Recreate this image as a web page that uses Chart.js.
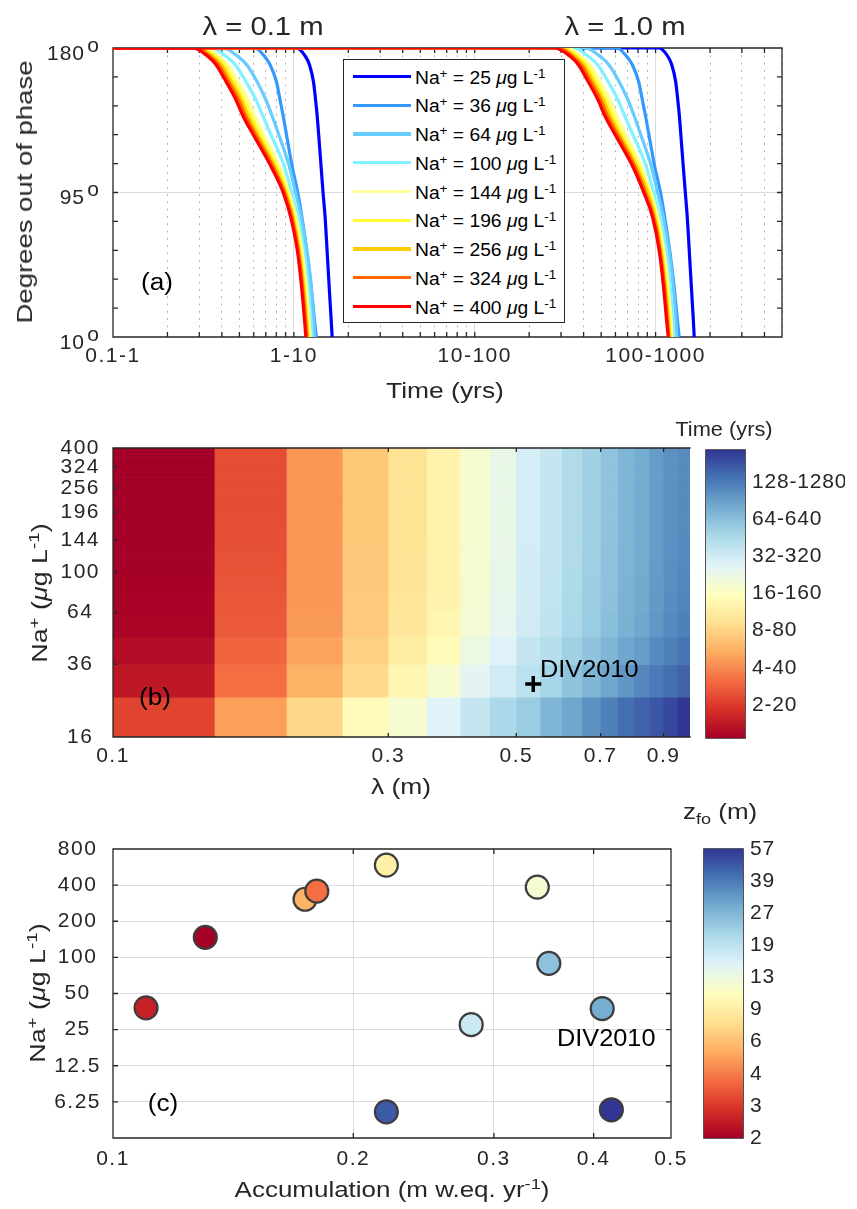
<!DOCTYPE html>
<html lang="en">
<head>
<meta charset="utf-8">
<title>Phase lag, time and z_fo</title>
<script src="https://cdn.jsdelivr.net/npm/chart.js@4.4.1/dist/chart.umd.min.js"></script>
<style>
  html, body { margin: 0; padding: 0; background: #fff; }
  #page { position: relative; width: 857px; height: 1209px; overflow: hidden;
          font-family: 'Liberation Sans', Arial, Helvetica, sans-serif; color: #262626; }
  #page canvas { position: absolute; left: 0; }
  .txt { position: absolute; white-space: nowrap; line-height: 1;
         transform: translate(-50%, -50%) scaleX(var(--sx, 1.18)); }
  .left { transform-origin: left center; transform: translate(0, -50%) scaleX(var(--sx, 1.1)); }
  .rot { transform: translate(-50%, -50%) rotate(-90deg) scaleX(var(--sx, 1.22)); }
  .ttl { font-size: 25px; --sx: 1.17; }
  .lab { font-size: 22px; }
  .pan { font-size: 23px; --sx: 1.14; color: #000; }
  .cbt { font-size: 20px; --sx: 1.09; }
  .sp { font-size: 70%; vertical-align: 0.55em; line-height: 0; }
  .sb { font-size: 70%; vertical-align: -0.35em; line-height: 0; }
  #legendA { position: absolute; left: 343px; top: 59px; width: 222px; height: 264px;
             box-sizing: border-box; border: 1.5px solid #262626; background: #fff; }
  .lg-line { position: absolute; left: 9px; width: 58px; height: 3.2px; }
  .lg-text { position: absolute; left: 71px; font-size: 17.5px; white-space: nowrap; color: #000;
             line-height: 1; transform-origin: left center; transform: translate(0, -50%) scaleX(1.1); }
</style>
</head>
<body>
<div id="page">
  <canvas id="chartA" width="857" height="410" style="top:0px"></canvas>
  <canvas id="chartB" width="857" height="410" style="top:400px"></canvas>
  <canvas id="cbarB" width="857" height="410" style="top:400px"></canvas>
  <canvas id="chartC" width="857" height="399" style="top:810px"></canvas>
  <canvas id="cbarC" width="857" height="399" style="top:810px"></canvas>

  <!-- panel (a) text -->
  <div class="txt ttl" style="left:263px;top:26px">λ = 0.1 m</div>
  <div class="txt ttl" style="left:625px;top:26px">λ = 1.0 m</div>
  <div class="txt lab rot" style="left:25px;top:192px;--sx:1.25">Degrees out of phase</div>
  <div class="txt lab" style="left:445px;top:391px;--sx:1.2">Time (yrs)</div>
  <div class="txt pan" style="left:157px;top:282px">(a)</div>
  <div id="legendA"></div>

  <!-- panel (b) text -->
  <div class="txt lab rot" style="left:40px;top:593px">Na<span class="sp">+</span> (<i>μ</i>g L<span class="sp">-1</span>)</div>
  <div class="txt lab" style="left:401px;top:787px;--sx:1.2">λ (m)</div>
  <div class="txt pan" style="left:155px;top:697px">(b)</div>
  <div class="txt pan left" style="left:540px;top:669px;--sx:1.1">DIV2010</div>
  <div class="txt cbt" style="left:724px;top:429px">Time (yrs)</div>

  <!-- panel (c) text -->
  <div class="txt lab rot" style="left:38px;top:993px">Na<span class="sp">+</span> (<i>μ</i>g L<span class="sp">-1</span>)</div>
  <div class="txt lab" style="left:392px;top:1190px;--sx:1.18">Accumulation (m w.eq. yr<span class="sp">-1</span>)</div>
  <div class="txt pan" style="left:163px;top:1103px">(c)</div>
  <div class="txt pan left" style="left:557px;top:1038px;--sx:1.1">DIV2010</div>
  <div class="txt lab left" style="left:683px;top:812px;--sx:1.18">z<span class="sb">fo</span> (m)</div>
</div>

<script>
// ---------- panel (a): phase lag curves ----------
const DEGREES = [180, 180, 175, 170, 160, 150, 140, 130, 110, 95, 80, 60, 40, 20, 10];
const NA_LEVELS = [25, 36, 64, 100, 144, 196, 256, 324, 400];
const NA_COLORS = ['#0000ff', '#3399ff', '#66ccff', '#80f2ff', '#ffff99', '#ffff33', '#ffcc00', '#ff6600', '#ff0000'];

// time at each DEGREES entry, lambda = 0.1 m
const t01_na25 = [0.1, 1.030, 1.160, 1.221, 1.284, 1.317, 1.346, 1.369, 1.415, 1.450, 1.490, 1.528, 1.567, 1.608, 1.628];
const t01_na36 = [0.1, 0.607, 0.689, 0.740, 0.802, 0.837, 0.873, 0.907, 0.980, 1.050, 1.110, 1.180, 1.245, 1.300, 1.330];
const t01_na64 = [0.1, 0.405, 0.491, 0.550, 0.627, 0.697, 0.759, 0.819, 0.946, 1.021, 1.102, 1.185, 1.247, 1.290, 1.306];
const t01_na100 = [0.1, 0.349, 0.423, 0.476, 0.545, 0.614, 0.674, 0.740, 0.888, 0.971, 1.057, 1.141, 1.200, 1.241, 1.263];
const t01_na144 = [0.1, 0.320, 0.385, 0.432, 0.493, 0.555, 0.609, 0.674, 0.837, 0.938, 1.030, 1.112, 1.170, 1.215, 1.231];
const t01_na196 = [0.1, 0.306, 0.369, 0.414, 0.470, 0.529, 0.581, 0.646, 0.809, 0.919, 1.009, 1.089, 1.145, 1.190, 1.210];
const t01_na256 = [0.1, 0.296, 0.357, 0.399, 0.452, 0.510, 0.560, 0.625, 0.789, 0.903, 0.992, 1.075, 1.131, 1.175, 1.195];
const t01_na324 = [0.1, 0.286, 0.345, 0.385, 0.437, 0.493, 0.541, 0.607, 0.769, 0.888, 0.979, 1.061, 1.117, 1.160, 1.180];
const t01_na400 = [0.1, 0.277, 0.335, 0.372, 0.423, 0.476, 0.523, 0.589, 0.750, 0.873, 0.963, 1.048, 1.102, 1.145, 1.165];

// lambda = 1.0 m
const t10_na25 = [0.1, 104, 117, 123, 129.2, 132.5, 135.4, 137.7, 142.3, 146, 149.8, 153.7, 157.6, 161.7, 163.5];
const t10_na36 = [0.1, 61.0, 69.3, 74.5, 80.7, 84.3, 88.0, 91.5, 99.0, 106.5, 112.5, 120.0, 126.5, 132.0, 135.0];
const t10_na64 = [0.1, 40.8, 49.4, 55.3, 63.0, 70.0, 76.2, 82.2, 95.0, 102.5, 110.6, 119, 125.2, 129.5, 131.2];
const t10_na100 = [0.1, 35.2, 42.6, 47.9, 54.8, 61.6, 67.6, 74.2, 89.0, 97.3, 105.9, 114.4, 120.3, 124.4, 126.6];
const t10_na144 = [0.1, 32.3, 38.8, 43.5, 49.6, 55.7, 61.1, 67.6, 83.8, 94.0, 103.2, 111.4, 117.2, 121.8, 123.4];
const t10_na196 = [0.1, 31.0, 37.2, 41.7, 47.3, 53.1, 58.3, 64.8, 81.0, 92.1, 101.1, 109.1, 114.8, 119.3, 121.3];
const t10_na256 = [0.1, 30.0, 36.0, 40.2, 45.5, 51.2, 56.2, 62.7, 79.0, 90.5, 99.5, 107.7, 113.4, 117.8, 119.8];
const t10_na324 = [0.1, 29.0, 34.8, 38.8, 44.0, 49.5, 54.3, 61.0, 77.0, 88.0, 98.0, 106.3, 112, 116.3, 118.3];
const t10_na400 = [0.1, 27.5, 33.8, 37.5, 42.5, 47.8, 52.5, 59.0, 75.0, 86.0, 96.5, 105, 110.5, 115, 117.5];

const TIME_LABEL_AT = [0.1, 1, 10, 100];
const TIME_LABELS = ['0.1-1', '1-10', '10-100', '100-1000'];
const DEG_TICKS = [10, 27, 44, 61, 78, 95, 112, 129, 146, 163, 180];
const DEG_LABELS = [10, 95, 180];

// ---------- panel (b): time map ----------
const LAMBDA_EDGES = [0.10, 0.15, 0.20, 0.25, 0.30, 0.35, 0.40, 0.45, 0.50, 0.55, 0.60, 0.65, 0.70, 0.75, 0.80, 0.85, 0.90, 0.95, 1.00];
const NA_EDGES = [16, 25, 36, 49, 64, 81, 100, 121, 144, 169, 196, 225, 256, 289, 324, 361, 400];
// log2 of time (yrs), rows from Na 16-25 (bottom) to 361-400 (top)
const TIME_LOG2 = [
  [1.13, 2.26, 3.07, 3.86, 4.22, 4.76, 5.15, 5.54, 5.77, 6.16, 6.39, 6.70, 6.93, 7.16, 7.32, 7.47, 7.63, 7.86],
  [0.50, 1.66, 2.51, 3.11, 3.75, 4.22, 4.68, 4.99, 5.30, 5.61, 5.92, 6.16, 6.39, 6.62, 6.85, 7.01, 7.16, 7.32],
  [0.31, 1.54, 2.32, 2.98, 3.52, 3.91, 4.45, 4.76, 5.15, 5.38, 5.69, 5.92, 6.16, 6.39, 6.54, 6.78, 6.93, 7.09],
  [0.19, 1.43, 2.20, 2.86, 3.37, 3.75, 4.30, 4.61, 4.99, 5.23, 5.54, 5.77, 6.00, 6.23, 6.39, 6.62, 6.78, 6.93],
  [0.16, 1.38, 2.18, 2.85, 3.34, 3.72, 4.27, 4.58, 4.96, 5.20, 5.51, 5.74, 5.97, 6.20, 6.36, 6.59, 6.75, 6.88],
  [0.14, 1.34, 2.17, 2.84, 3.32, 3.71, 4.25, 4.56, 4.95, 5.18, 5.49, 5.72, 5.95, 6.18, 6.34, 6.57, 6.73, 6.84],
  [0.13, 1.31, 2.16, 2.83, 3.31, 3.70, 4.24, 4.55, 4.94, 5.17, 5.48, 5.71, 5.94, 6.17, 6.33, 6.56, 6.72, 6.82],
  [0.12, 1.29, 2.15, 2.83, 3.30, 3.69, 4.23, 4.54, 4.93, 5.16, 5.47, 5.70, 5.93, 6.17, 6.32, 6.55, 6.71, 6.80],
  [0.11, 1.28, 2.15, 2.82, 3.29, 3.68, 4.22, 4.53, 4.92, 5.15, 5.46, 5.69, 5.92, 6.16, 6.31, 6.54, 6.70, 6.79],
  [0.11, 1.27, 2.15, 2.82, 3.29, 3.68, 4.22, 4.53, 4.92, 5.15, 5.46, 5.69, 5.92, 6.16, 6.31, 6.54, 6.70, 6.78],
  [0.11, 1.27, 2.15, 2.82, 3.29, 3.68, 4.22, 4.53, 4.92, 5.15, 5.46, 5.69, 5.92, 6.16, 6.31, 6.54, 6.70, 6.78],
  [0.11, 1.27, 2.15, 2.82, 3.29, 3.68, 4.22, 4.53, 4.92, 5.15, 5.46, 5.69, 5.92, 6.16, 6.31, 6.54, 6.70, 6.78],
  [0.11, 1.27, 2.15, 2.82, 3.29, 3.68, 4.22, 4.53, 4.92, 5.15, 5.46, 5.69, 5.92, 6.16, 6.31, 6.54, 6.70, 6.78],
  [0.11, 1.27, 2.15, 2.82, 3.29, 3.68, 4.22, 4.53, 4.92, 5.15, 5.46, 5.69, 5.92, 6.16, 6.31, 6.54, 6.70, 6.78],
  [0.11, 1.27, 2.15, 2.82, 3.29, 3.68, 4.22, 4.53, 4.92, 5.15, 5.46, 5.69, 5.92, 6.16, 6.31, 6.54, 6.70, 6.78],
  [0.11, 1.27, 2.15, 2.82, 3.29, 3.68, 4.22, 4.53, 4.92, 5.15, 5.46, 5.69, 5.92, 6.16, 6.31, 6.54, 6.70, 6.78]
];
const LAMBDA_TICKS = [0.1, 0.3, 0.5, 0.7, 0.9];
const NA_TICKS_B = [16, 36, 64, 100, 144, 196, 256, 324, 400];
const DIV2010_LAMBDA = [0.535];
const DIV2010_NA = [28.9];
const TIME_CBAR_RANGE = [0.11, 7.86];
const TIME_CBAR_TICKS = [1, 2, 3, 4, 5, 6, 7];
const TIME_CBAR_LABELS = ['2-20', '4-40', '8-80', '16-160', '32-320', '64-640', '128-1280'];

// ---------- panel (c): sites ----------
const ACCUM = [0.110, 0.1305, 0.174, 0.180, 0.220, 0.220, 0.340, 0.3515, 0.410, 0.281, 0.421];
const NA_SITE = [38, 147, 305, 356, 588, 5.16, 385, 89, 37.4, 27.5, 5.37];
const ZFO = [2.5, 2.0, 5.7, 3.9, 9.0, 47, 12, 25, 29, 17, 57];
const ACC_TICKS = [0.1, 0.2, 0.3, 0.4, 0.5];
const NA_TICKS_C = [6.25, 12.5, 25, 50, 100, 200, 400, 800];
const ZFO_RANGE = [2, 57];
const ZFO_TICKS = [2, 2.9, 4.21, 6.11, 8.86, 12.86, 18.66, 27.07, 39.28, 56.98];
const ZFO_LABELS = ['2', '3', '4', '6', '9', '13', '19', '27', '39', '57'];

// ---------- shared style ----------
const FONT = "'Liberation Sans', Arial, sans-serif";
const INK = '#262626';
const GRID = '#dcdcdc';
const RDYLBU_R = ['#a50026', '#d73027', '#f46d43', '#fdae61', '#fee090', '#ffffbf',
                  '#e0f3f8', '#abd9e9', '#74add1', '#4575b4', '#313695'];

function hexToRgb(h) {
    return [1, 3, 5].map(i => parseInt(h.slice(i, i + 2), 16));
}

function cmap(f) {
    f = Math.max(0, Math.min(1, f));
    const p = f * (RDYLBU_R.length - 1);
    const i = Math.min(RDYLBU_R.length - 2, Math.floor(p));
    const t = p - i;
    const a = hexToRgb(RDYLBU_R[i]);
    const b = hexToRgb(RDYLBU_R[i + 1]);
    const c = a.map((v, k) => Math.round(v + (b[k] - v) * t));
    return `rgb(${c[0]}, ${c[1]}, ${c[2]})`;
}

function fixAxis(size, horizontal) {
    return (s) => {
        if (horizontal) s.height = size; else s.width = size;
        s.paddingLeft = 0; s.paddingRight = 0; s.paddingTop = 0; s.paddingBottom = 0;
    };
}

function setTicks(values) {
    return (s) => { s.ticks = values.map(v => ({ value: v })); };
}

const sameVal = (a, b) => Math.abs(a / b - 1) < 1e-6;
const noGrid = { display: false, drawTicks: false };

// matlab text is a bit wider than ours, so space the canvas text out a little
const spacingPlugin = {
    id: 'spacing',
    beforeLayout(chart, args, o) { chart.ctx.letterSpacing = o.value || '1.5px'; },
    beforeDraw(chart, args, o) { chart.ctx.letterSpacing = o.value || '1.5px'; }
};

// box + inward ticks, drawn under the data like a matlab axes
const framePlugin = {
    id: 'frame',
    beforeDatasetsDraw(chart, args, o) {
        const { ctx, chartArea: a, scales } = chart;
        const len = o.len || 5;
        const sides = o.sides || ['left', 'right', 'top', 'bottom'];
        ctx.save();
        ctx.strokeStyle = INK;
        ctx.lineWidth = o.width || 1.3;
        ctx.lineCap = 'square';
        ctx.beginPath();
        if (sides.includes('left')) { ctx.moveTo(a.left, a.top); ctx.lineTo(a.left, a.bottom); }
        if (sides.includes('right')) { ctx.moveTo(a.right, a.top); ctx.lineTo(a.right, a.bottom); }
        if (sides.includes('top')) { ctx.moveTo(a.left, a.top); ctx.lineTo(a.right, a.top); }
        if (sides.includes('bottom')) { ctx.moveTo(a.left, a.bottom); ctx.lineTo(a.right, a.bottom); }
        ctx.stroke();
        ctx.lineCap = 'butt';
        ctx.beginPath();
        const xt = o.xTicks || [];
        const yt = o.yTicks || [];
        if (xt.length && scales.x) {
            scales.x.ticks.forEach(t => {
                const px = scales.x.getPixelForValue(t.value);
                if (px <= a.left + 1 || px >= a.right - 1) return;
                if (xt.includes('bottom')) { ctx.moveTo(px, a.bottom); ctx.lineTo(px, a.bottom - len); }
                if (xt.includes('top')) { ctx.moveTo(px, a.top); ctx.lineTo(px, a.top + len); }
            });
        }
        if (yt.length && scales.y) {
            scales.y.ticks.forEach(t => {
                const py = scales.y.getPixelForValue(t.value);
                if (py <= a.top + 1 || py >= a.bottom - 1) return;
                if (yt.includes('left')) { ctx.moveTo(a.left, py); ctx.lineTo(a.left + len, py); }
                if (yt.includes('right')) { ctx.moveTo(a.right, py); ctx.lineTo(a.right - len, py); }
            });
        }
        ctx.stroke();
        ctx.restore();
    }
};

// y labels of panel (a), with the superscript "o"
const degLabelPlugin = {
    id: 'degLabels',
    afterDraw(chart) {
        const { ctx, scales: { y }, chartArea: a } = chart;
        ctx.save();
        ctx.fillStyle = INK;
        ctx.textAlign = 'right';
        ctx.textBaseline = 'alphabetic';
        DEG_LABELS.forEach(v => {
            const py = y.getPixelForValue(v);
            ctx.letterSpacing = '0px';
            ctx.font = `21px ${FONT}`;
            ctx.fillText('o', a.left - 14, py + 3.5);
            ctx.letterSpacing = '1px';
            ctx.font = `21px ${FONT}`;
            ctx.fillText(String(v), a.left - 28, py + 11.5);
        });
        ctx.restore();
    }
};

// pcolor-like cells for panel (b)
const heatmapPlugin = {
    id: 'heatmap',
    beforeDatasetsDraw(chart) {
        const { ctx, chartArea: a, scales: { x, y } } = chart;
        const span = TIME_CBAR_RANGE[1] - TIME_CBAR_RANGE[0];
        ctx.save();
        ctx.beginPath();
        ctx.rect(a.left, a.top, a.width, a.height);
        ctx.clip();
        TIME_LOG2.forEach((row, r) => {
            const y0 = y.getPixelForValue(NA_EDGES[r]);
            const y1 = y.getPixelForValue(NA_EDGES[r + 1]);
            row.forEach((v, c) => {
                const x0 = x.getPixelForValue(LAMBDA_EDGES[c]);
                const x1 = x.getPixelForValue(LAMBDA_EDGES[c + 1]);
                ctx.fillStyle = cmap((v - TIME_CBAR_RANGE[0]) / span);
                ctx.fillRect(x0, y1, x1 - x0 + 0.6, y0 - y1 + 0.6);
            });
        });
        ctx.restore();
    }
};

function cbarGradient(context) {
    const chart = context.chart;
    const a = chart.chartArea;
    if (!a) return '#cccccc';
    const g = chart.ctx.createLinearGradient(0, a.bottom, 0, a.top);
    RDYLBU_R.forEach((c, i) => g.addColorStop(i / (RDYLBU_R.length - 1), c));
    return g;
}

const tickFont = { family: FONT, size: 21 };

document.addEventListener('DOMContentLoaded', () => {
    Chart.defaults.font.family = FONT;
    Chart.defaults.color = INK;

    const base = {
        responsive: false,
        animation: false,
        devicePixelRatio: 1,
        events: []
    };

    // --- panel (a) ---
    const curves01 = [t01_na25, t01_na36, t01_na64, t01_na100, t01_na144, t01_na196, t01_na256, t01_na324, t01_na400];
    const curves10 = [t10_na25, t10_na36, t10_na64, t10_na100, t10_na144, t10_na196, t10_na256, t10_na324, t10_na400];
    const datasetsA = [];
    [curves01, curves10].forEach(set => {
        set.forEach((times, i) => {
            datasetsA.push({
                label: `Na+ = ${NA_LEVELS[i]}`,
                data: times.map((t, j) => ({ x: t, y: DEGREES[j] })),
                borderColor: NA_COLORS[i],
                backgroundColor: NA_COLORS[i],
                borderWidth: 3.2,
                pointRadius: 0,
                fill: false,
                cubicInterpolationMode: 'monotone',
                order: NA_LEVELS.length - 1 - i
            });
        });
    });

    const gridTimes = [];
    TIME_LABEL_AT.forEach(d => {
        for (let k = 1; k <= 9; k++) {
            const v = +(d * k).toPrecision(6);
            if (v <= 500) gridTimes.push(v);
        }
    });
    const isMajorTime = v => TIME_LABEL_AT.some(m => sameVal(v, m));

    new Chart(document.getElementById('chartA'), {
        type: 'line',
        data: { datasets: datasetsA },
        plugins: [spacingPlugin, framePlugin, degLabelPlugin],
        options: {
            ...base,
            layout: { padding: { left: 13, top: 48, right: 75, bottom: 33 } },
            plugins: {
                legend: { display: false },
                tooltip: { enabled: false },
                frame: { xTicks: ['top', 'bottom'], yTicks: ['left', 'right'], len: 5 }
            },
            scales: {
                x: {
                    type: 'logarithmic', min: 0.1, max: 500,
                    afterBuildTicks: setTicks(gridTimes),
                    afterFit: fixAxis(40, true),
                    grid: {
                        drawTicks: false,
                        color: c => {
                            if (!c.tick) return 'transparent';
                            if (sameVal(c.tick.value, 0.1)) return 'transparent';
                            return isMajorTime(c.tick.value) ? GRID : '#b4b4b4';
                        }
                    },
                    border: { display: false, dash: c => (c.tick && !isMajorTime(c.tick.value)) ? [2, 5.3] : [] },
                    ticks: {
                        autoSkip: false, maxRotation: 0, minRotation: 0, padding: 7,
                        font: tickFont, color: INK,
                        callback: v => {
                            const i = TIME_LABEL_AT.findIndex(m => sameVal(v, m));
                            return i >= 0 ? TIME_LABELS[i] : '';
                        }
                    }
                },
                y: {
                    type: 'linear', min: 10, max: 180,
                    afterBuildTicks: setTicks(DEG_TICKS),
                    afterFit: fixAxis(100, false),
                    grid: { drawTicks: false, color: c => (c.tick && c.tick.value === 95) ? GRID : 'transparent' },
                    border: { display: false },
                    ticks: { display: false }
                }
            }
        }
    });

    // legend of panel (a)
    const legend = document.getElementById('legendA');
    NA_LEVELS.forEach((na, i) => {
        const yc = 16.5 + i * 28.75;
        const line = document.createElement('div');
        line.className = 'lg-line';
        line.style.top = (yc - 1.6) + 'px';
        line.style.background = NA_COLORS[i];
        legend.appendChild(line);
        const txt = document.createElement('div');
        txt.className = 'lg-text';
        txt.style.top = (yc + 2) + 'px';
        txt.innerHTML = `Na<span class="sp">+</span> = ${na} <i>μ</i>g L<span class="sp">-1</span>`;
        legend.appendChild(txt);
    });

    // --- panel (b) ---
    new Chart(document.getElementById('chartB'), {
        type: 'scatter',
        data: {
            datasets: [{
                label: 'DIV2010',
                data: DIV2010_LAMBDA.map((l, i) => ({ x: l, y: DIV2010_NA[i] })),
                pointStyle: 'cross',
                pointRadius: 8,
                borderWidth: 3.5,
                borderColor: '#000000'
            }]
        },
        plugins: [spacingPlugin, heatmapPlugin, framePlugin],
        options: {
            ...base,
            layout: { padding: { left: 13, top: 48, right: 167, bottom: 33 } },
            plugins: {
                legend: { display: false },
                tooltip: { enabled: false },
                frame: { sides: ['left', 'top', 'bottom'], xTicks: ['top', 'bottom'], yTicks: ['left'], len: 4 }
            },
            scales: {
                x: {
                    type: 'logarithmic', min: 0.1, max: 1.0,
                    afterBuildTicks: setTicks(LAMBDA_TICKS),
                    afterFit: fixAxis(40, true),
                    grid: noGrid,
                    border: { display: false },
                    ticks: { autoSkip: false, maxRotation: 0, padding: 7, font: tickFont, color: INK, callback: v => String(v) }
                },
                y: {
                    type: 'logarithmic', min: 16, max: 400,
                    afterBuildTicks: setTicks(NA_TICKS_B),
                    afterFit: fixAxis(100, false),
                    grid: noGrid,
                    border: { display: false },
                    ticks: { autoSkip: false, padding: 13, crossAlign: 'center', font: tickFont, color: INK, callback: v => String(v) }
                }
            }
        }
    });

    new Chart(document.getElementById('cbarB'), {
        type: 'bar',
        data: {
            labels: [''],
            datasets: [{
                data: [TIME_CBAR_RANGE],
                backgroundColor: cbarGradient,
                borderWidth: 0,
                barPercentage: 1,
                categoryPercentage: 1
            }]
        },
        plugins: [spacingPlugin, framePlugin],
        options: {
            ...base,
            layout: { padding: { left: 706, top: 50, right: 12, bottom: 72 } },
            plugins: {
                legend: { display: false },
                tooltip: { enabled: false },
                spacing: { value: '0.8px' },
                frame: { yTicks: ['right'], len: 3, width: 1.6 }
            },
            scales: {
                x: { display: false },
                y: {
                    position: 'right', type: 'linear',
                    min: TIME_CBAR_RANGE[0], max: TIME_CBAR_RANGE[1],
                    afterBuildTicks: setTicks(TIME_CBAR_TICKS),
                    afterFit: fixAxis(100, false),
                    grid: noGrid,
                    border: { display: false },
                    ticks: { autoSkip: false, padding: 7, font: tickFont, color: INK, callback: (v, i) => TIME_CBAR_LABELS[i] }
                }
            }
        }
    });

    // --- panel (c) ---
    const zLog = v => Math.log(v / ZFO_RANGE[0]) / Math.log(ZFO_RANGE[1] / ZFO_RANGE[0]);
    new Chart(document.getElementById('chartC'), {
        type: 'scatter',
        data: {
            datasets: [{
                label: 'sites',
                data: ACCUM.map((a, i) => ({ x: a, y: NA_SITE[i] })),
                backgroundColor: ZFO.map(z => cmap(zLog(z))),
                borderColor: '#3d3d3d',
                borderWidth: 2.2,
                pointRadius: 11.5
            }]
        },
        plugins: [spacingPlugin, framePlugin],
        options: {
            ...base,
            layout: { padding: { left: 13, top: 39, right: 186, bottom: 31 } },
            plugins: {
                legend: { display: false },
                tooltip: { enabled: false },
                frame: { xTicks: ['top', 'bottom'], yTicks: ['left', 'right'], len: 5 }
            },
            scales: {
                x: {
                    type: 'logarithmic', min: 0.1, max: 0.5,
                    afterBuildTicks: setTicks(ACC_TICKS),
                    afterFit: fixAxis(40, true),
                    grid: { drawTicks: false, color: c => (c.tick && c.tick.value > 0.1 && c.tick.value < 0.5) ? GRID : 'transparent' },
                    border: { display: false },
                    ticks: { autoSkip: false, maxRotation: 0, padding: 9, font: tickFont, color: INK, callback: v => String(v) }
                },
                y: {
                    type: 'logarithmic', min: 3.125, max: 800,
                    afterBuildTicks: setTicks(NA_TICKS_C),
                    afterFit: fixAxis(100, false),
                    grid: { drawTicks: false, color: c => (c.tick && c.tick.value < 800) ? GRID : 'transparent' },
                    border: { display: false },
                    ticks: { autoSkip: false, padding: 12, crossAlign: 'center', font: tickFont, color: INK, callback: v => String(v) }
                }
            }
        }
    });

    new Chart(document.getElementById('cbarC'), {
        type: 'bar',
        data: {
            labels: [''],
            datasets: [{
                data: [ZFO_RANGE],
                backgroundColor: cbarGradient,
                borderWidth: 0,
                barPercentage: 1,
                categoryPercentage: 1
            }]
        },
        plugins: [spacingPlugin, framePlugin],
        options: {
            ...base,
            layout: { padding: { left: 704, top: 39, right: 14, bottom: 71 } },
            plugins: {
                legend: { display: false },
                tooltip: { enabled: false },
                spacing: { value: '0.8px' },
                frame: { yTicks: ['right'], len: 3, width: 1.6 }
            },
            scales: {
                x: { display: false },
                y: {
                    position: 'right', type: 'logarithmic',
                    min: ZFO_RANGE[0], max: ZFO_RANGE[1],
                    afterBuildTicks: setTicks(ZFO_TICKS),
                    afterFit: fixAxis(100, false),
                    grid: noGrid,
                    border: { display: false },
                    ticks: { autoSkip: false, padding: 7, font: tickFont, color: INK, callback: (v, i) => ZFO_LABELS[i] }
                }
            }
        }
    });
});
</script>
</body>
</html>
